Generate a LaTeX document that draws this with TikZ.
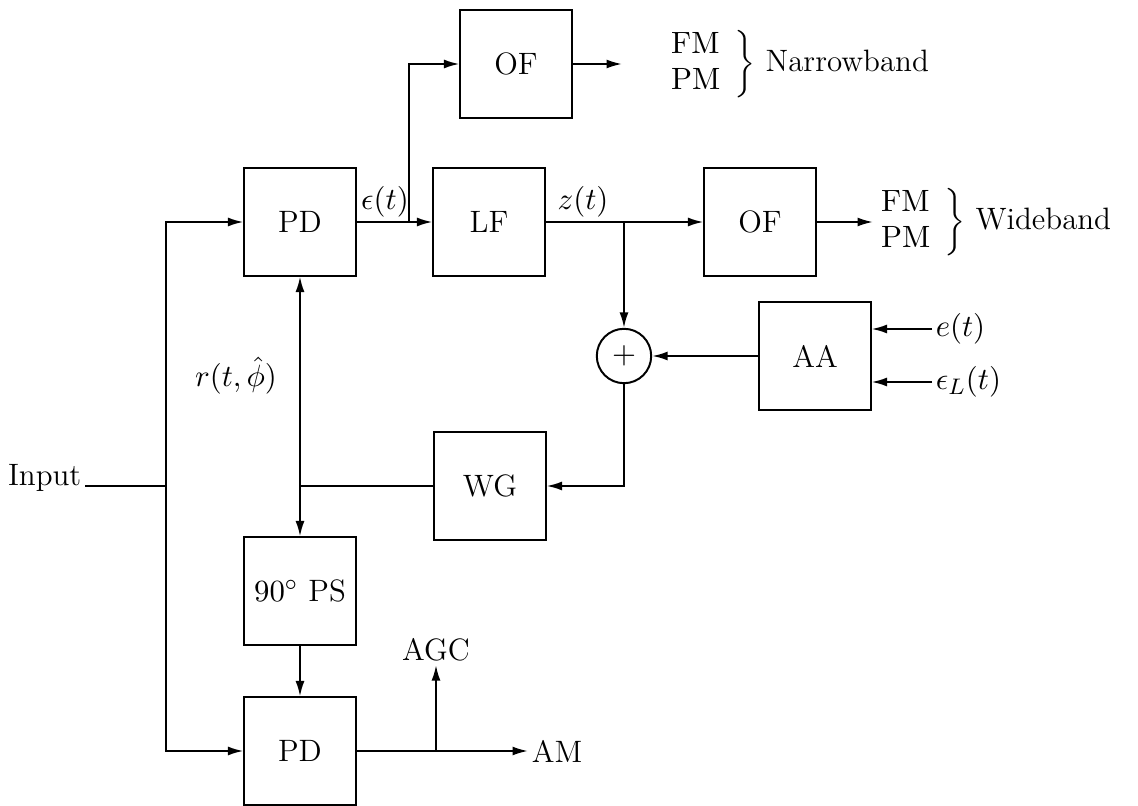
\documentclass[tikz,border=0pt]{standalone}
\usetikzlibrary{arrows.meta}

\begin{document}
\begin{tikzpicture}[x=0.0125cm,y=-0.0125cm,line width=0.7pt,
    >={Latex[length=5.5pt,width=3.2pt]},
    every node/.style={font=\fontsize{11}{13}\selectfont},
    blk/.style={draw,minimum width=1.39cm,minimum height=1.34cm,inner sep=0pt},
    sumnode/.style={draw,circle,minimum size=0.68cm,inner sep=0pt},
    lbl/.style={inner sep=1pt}]
  \useasboundingbox (0,0) rectangle (1138,806);
  % blocks
  \node[blk] (pdu) at (300,222) {PD};
  \node[blk] (lf) at (489,222) {LF};
  \node[blk] (ofn) at (516,64) {OF};
  \node[blk] (ofw) at (760,222) {OF};
  \node[blk] (aa) at (815,356) {AA};
  \node[sumnode] (sum) at (624,356) {$+$};
  \node[blk] (wg) at (490,486) {WG};
  \node[blk] (ps) at (300,591) {$90^\circ$ PS};
  \node[blk] (pdl) at (300,751) {PD};
  % labels
  \node[lbl,anchor=base east] (input) at (85,486) {Input};
  \node[lbl] (eps) at (385,202) {$\epsilon(t)$};
  \node[lbl] (zt) at (583,202) {$z(t)$};
  \node[lbl] (rt) at (236,376) {$r(t,\hat{\phi})$};
  \node[lbl,anchor=west] (et) at (932,329) {$e(t)$};
  \node[lbl,anchor=west] (el) at (932,382) {$\epsilon_L(t)$};
  \node[lbl,anchor=west] (narrow) at (664,64)
    {$\left.\begin{array}{@{}l}\mathrm{FM}\\ \mathrm{PM}\end{array}\right\}$ Narrowband};
  \node[lbl,anchor=west] (wide) at (874,222)
    {$\left.\begin{array}{@{}l}\mathrm{FM}\\ \mathrm{PM}\end{array}\right\}$ Wideband};
  \node[lbl] (agc) at (436,650) {AGC};
  \node[lbl,anchor=west] (am) at (528,751) {AM};
  % branch points and free ends
  \coordinate (split) at (166,486);
  \coordinate (eb) at (409,222);
  \coordinate (zb) at (624,222);
  \coordinate (ab) at (436,751);
  \coordinate (nout) at (622,64);
  \coordinate (wout) at (873,222);
  % connectors
  \draw (input.base east) -- (split);
  \draw[->] (split) |- (pdu.west);
  \draw[->] (split) |- (pdl.west);
  \draw[->] (pdu.east) -- (lf.west);
  \draw[->] (eb) |- (ofn.west);
  \draw[->] (ofn.east) -- (nout);
  \draw[->] (lf.east) -- (ofw.west);
  \draw[->] (ofw.east) -- (wout);
  \draw[->] (zb) -- (sum.north);
  \draw[->] (aa.west) -- (sum.east);
  \draw[->] (et.west) -- (aa.east |- et.west);
  \draw[->] (el.west) -- (aa.east |- el.west);
  \draw[->] (sum.south) |- (wg.east);
  \draw (wg.west) -- (pdu.south |- wg.west);
  \draw[<->] (pdu.south) -- (ps.north);
  \draw[->] (ps.south) -- (pdl.north);
  \draw[->] (pdl.east) -- (am.west);
  \draw[->] (ab) -- (agc.south);
\end{tikzpicture}
\end{document}
